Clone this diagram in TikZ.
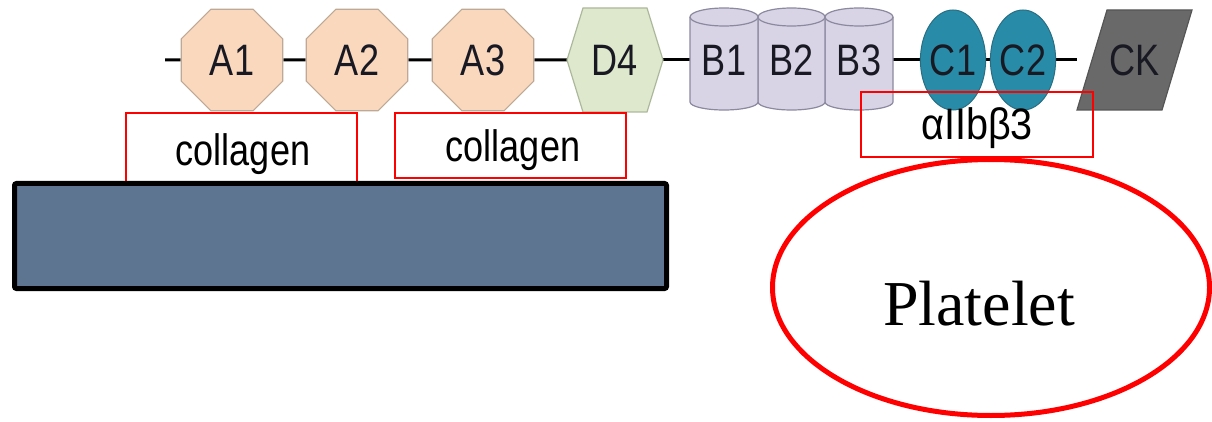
\documentclass[tikz,border=0pt]{standalone}
\usepackage{graphicx}
\usepackage{fontspec}
\setmainfont{Liberation Sans}
\newfontfamily\serifface{Liberation Serif}
\usetikzlibrary{shapes.geometric,backgrounds}
\definecolor{peach}{RGB}{249,216,190}
\definecolor{peachb}{RGB}{190,168,150}
\definecolor{sage}{RGB}{222,232,204}
\definecolor{sageb}{RGB}{172,184,156}
\definecolor{lav}{RGB}{216,212,230}
\definecolor{lavb}{RGB}{140,136,158}
\definecolor{cteal}{RGB}{40,140,168}
\definecolor{ctealb}{RGB}{40,110,130}
\definecolor{ckgray}{RGB}{105,105,105}
\definecolor{ckgrayb}{RGB}{85,85,85}
\definecolor{slab}{RGB}{94,117,146}
\definecolor{txt}{RGB}{25,25,35}
\newcommand{\lbl}[1]{\scalebox{0.82}[1]{#1}}
\begin{document}
\begin{tikzpicture}[x=1pt,y=1pt,
  dom/.style={font=\fontsize{44}{48}\selectfont, text=txt, inner sep=0pt},
  oct/.style={dom, regular polygon, regular polygon sides=8, minimum size=110pt, draw=peachb, fill=peach, line width=1.2pt},
  ell/.style={dom, ellipse, minimum width=64pt, minimum height=100pt, draw=ctealb, fill=cteal, line width=1pt},
  blk/.style={dom, rectangle},
  hexst/.style={draw=sageb, fill=sage, line width=1.2pt},
  cylst/.style={draw=lavb, fill=lav, line width=1.2pt},
  ckst/.style={draw=ckgrayb, fill=ckgray, line width=1.2pt},
  link/.style={line width=3pt, black},
  redbox/.style={draw=red, line width=2pt},
  lab/.style={font=\fontsize{44}{48}\selectfont, text=black, inner sep=0pt}]
\useasboundingbox (0,0) rectangle (1212,-422);
% domain chain
\coordinate (start) at (165,-60);
\node[oct] (A1) at (232,-60) {\lbl{A1}};
\node[oct] (A2) at (357,-60) {\lbl{A2}};
\node[oct] (A3) at (483,-60) {\lbl{A3}};
\node[blk, minimum width=96pt, minimum height=104pt] (D4) at (615,-60) {\lbl{D4}};
\node[blk, minimum width=68pt, minimum height=102pt] (B1) at (724,-60) {\lbl{B1}};
\node[blk, minimum width=67pt, minimum height=102pt] (B2) at (791.5,-60) {\lbl{B2}};
\node[blk, minimum width=68pt, minimum height=102pt] (B3) at (859,-60) {\lbl{B3}};
\node[ell] (C1) at (953,-60) {\lbl{C1}};
\node[ell] (C2) at (1023,-60) {\lbl{C2}};
\node[blk, minimum width=115pt, minimum height=100pt] (CK) at (1134.5,-60) {\lbl{CK}};
\begin{scope}[on background layer]
  \draw[link] (start) -- (A1);
  \draw[link] (A1) -- (A2);
  \draw[link] (A2) -- (A3);
  \draw[link] (A3) -- (D4);
  \draw[link] (D4) -- (B1);
  \draw[link] (B3) -- (C1);
  \draw[link] (C1) -- (C2);
  \draw[link] (C2) -- (CK);
  % D4 hexagon
  \filldraw[hexst] (567,-60) -- (583,-8) -- (647,-8) -- (663,-60) -- (647,-112) -- (583,-112) -- cycle;
  % cylinders
  \filldraw[cylst] (825,-17) -- (825,-102) arc[start angle=180,end angle=360,x radius=34,y radius=8] -- (893,-17) arc[start angle=0,end angle=180,x radius=34,y radius=9] -- cycle;
  \draw[cylst, fill=none] (825,-17) arc[start angle=180,end angle=360,x radius=34,y radius=9];
  \filldraw[cylst] (758,-17) -- (758,-102) arc[start angle=180,end angle=360,x radius=33.5,y radius=8] -- (825,-17) arc[start angle=0,end angle=180,x radius=33.5,y radius=9] -- cycle;
  \draw[cylst, fill=none] (758,-17) arc[start angle=180,end angle=360,x radius=33.5,y radius=9];
  \filldraw[cylst] (690,-17) -- (690,-102) arc[start angle=180,end angle=360,x radius=34,y radius=8] -- (758,-17) arc[start angle=0,end angle=180,x radius=34,y radius=9] -- cycle;
  \draw[cylst, fill=none] (690,-17) arc[start angle=180,end angle=360,x radius=34,y radius=9];
  % CK parallelogram
  \filldraw[ckst] (1077,-110) -- (1107,-10) -- (1192,-10) -- (1162,-110) -- cycle;
\end{scope}
% collagen boxes and surface
\draw[redbox] (126,-113) rectangle (357,-183);
\draw[redbox] (395,-113) rectangle (626,-178);
\node[lab, anchor=base] (col1) at (243,-166) {\lbl{collagen}};
\node[lab, anchor=base] (col2) at (513,-162) {\lbl{collagen}};
\draw[fill=slab, draw=black, line width=5pt, rounded corners=2pt] (14.5,-183.5) rectangle (666.5,-288.5);
% integrin box
\draw[redbox] (861,-92) rectangle (1093,-157);
\node[lab, anchor=base] (itg) at (977,-140) {\scalebox{0.9}[1]{αIIbβ3}};
% platelet
\draw[red, line width=5pt] (991,-287.5) ellipse [x radius=218.5, y radius=128];
\node[font=\serifface\fontsize{64}{70}\selectfont, anchor=base, inner sep=0pt] (plt) at (979,-325) {Platelet};
\end{tikzpicture}
\end{document}
